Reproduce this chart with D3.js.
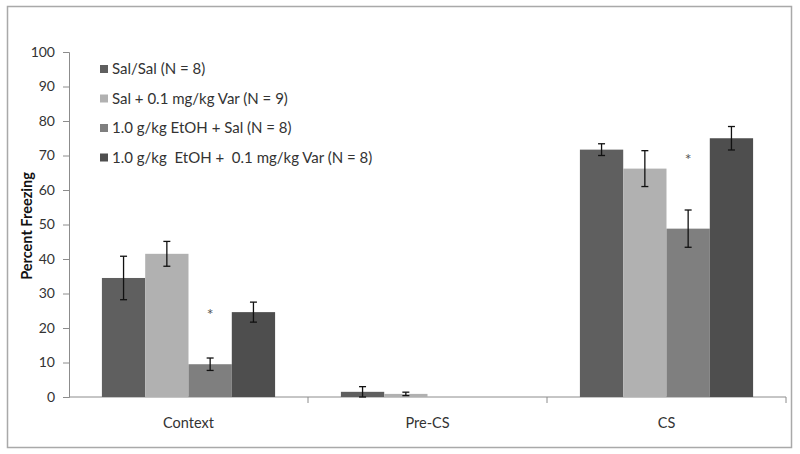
<!DOCTYPE html>
<meta charset="utf-8">
<style>
body { margin: 0; background: #fff; }
text { font-family: Lato, "Open Sans", sans-serif; fill: #333; }
</style>
<body>
<script src="https://d3js.org/d3.v7.min.js"></script>
<script>
var width = 800,
    height = 454;

// data
var categories = ["Context", "Pre-CS", "CS"];
var groups = ["Sal/Sal (N = 8)",
              "Sal + 0.1 mg/kg Var (N = 9)",
              "1.0 g/kg EtOH + Sal (N = 8)",
              "1.0 g/kg  EtOH +  0.1 mg/kg Var (N = 8)"];
var colors = ["#5f5f5f", "#b1b1b1", "#7f7f7f", "#4e4e4e"];
var means = [
  [34.5, 41.5, 9.5, 24.6],
  [1.5, 0.9, 0, 0],
  [71.7, 66.2, 48.8, 75.0]
];
var errs = [
  [6.3, 3.6, 1.8, 2.9],
  [1.5, 0.5, 0, 0],
  [1.7, 5.2, 5.4, 3.4]
];
var stars = [[0, 2, 25], [2, 2, 70]]; // category, group, y value
var yTicks = [0, 10, 20, 30, 40, 50, 60, 70, 80, 90, 100];

var svg = d3.select("body").append("svg")
    .attr("width", width)
    .attr("height", height);

// frame
svg.append("rect")
    .attr("x", 7.5).attr("y", 6.5)
    .attr("width", 784).attr("height", 441)
    .attr("fill", "none")
    .attr("stroke", "#a9a9a9")
    .attr("stroke-width", 1.5);

var x = d3.scaleBand()
    .domain(categories)
    .range([69, 786]);

var xs = d3.scaleBand()
    .domain(d3.range(groups.length))
    .range([0, x.bandwidth()])
    .paddingOuter(0.76)
    .paddingInner(0);

var y = d3.scaleLinear()
    .domain([0, 100])
    .range([397, 52]);

// y axis
var yAxis = svg.append("g")
    .attr("transform", "translate(69,0)")
    .call(d3.axisLeft(y).tickValues(yTicks).tickSize(6).tickPadding(8));
yAxis.selectAll("path, line").attr("stroke", "#8c8c8c");
yAxis.selectAll("text").style("font-size", "14px").attr("fill", "#333")
    .attr("font-family", "Lato, sans-serif");

// x axis
var xAxis = svg.append("g")
    .attr("transform", "translate(0,397)");
xAxis.append("line")
    .attr("x1", 69).attr("x2", 786)
    .attr("stroke", "#8c8c8c");
xAxis.selectAll("line.tick")
    .data(categories)
    .enter().append("line")
    .attr("class", "tick")
    .attr("x1", function(d) { return x(d) + x.bandwidth(); })
    .attr("x2", function(d) { return x(d) + x.bandwidth(); })
    .attr("y1", 0).attr("y2", 6)
    .attr("stroke", "#8c8c8c");
xAxis.selectAll("text")
    .data(categories)
    .enter().append("text")
    .attr("x", function(d) { return x(d) + x.bandwidth() / 2; })
    .attr("y", 31)
    .attr("text-anchor", "middle")
    .style("font-size", "14.5px")
    .text(function(d) { return d; });

// y label
svg.append("text")
    .attr("transform", "translate(32,226) rotate(-90)")
    .attr("text-anchor", "middle")
    .style("font-size", "14.5px")
    .style("font-weight", "bold")
    .style("fill", "#111")
    .text("Percent Freezing");

// bars
var rows = [];
categories.forEach(function(c, i) {
  groups.forEach(function(g, j) {
    rows.push({cat: c, g: j, v: means[i][j], e: errs[i][j]});
  });
});

var plot = svg.append("g");

plot.selectAll("rect.bar")
    .data(rows)
    .enter().append("rect")
    .attr("class", "bar")
    .attr("x", function(d) { return x(d.cat) + xs(d.g); })
    .attr("width", xs.bandwidth())
    .attr("y", function(d) { return y(d.v); })
    .attr("height", function(d) { return y(0) - y(d.v); })
    .attr("fill", function(d) { return colors[d.g]; });

// error bars
var eb = plot.selectAll("g.err")
    .data(rows.filter(function(d) { return d.e > 0; }))
    .enter().append("g")
    .attr("class", "err")
    .attr("stroke", "#111")
    .attr("stroke-width", 1.3);
eb.append("line")
    .attr("x1", function(d) { return x(d.cat) + xs(d.g) + xs.bandwidth() / 2; })
    .attr("x2", function(d) { return x(d.cat) + xs(d.g) + xs.bandwidth() / 2; })
    .attr("y1", function(d) { return y(d.v + d.e); })
    .attr("y2", function(d) { return y(Math.max(0, d.v - d.e)); });
[1, -1].forEach(function(s) {
  eb.append("line")
      .attr("x1", function(d) { return x(d.cat) + xs(d.g) + xs.bandwidth() / 2 - 3.5; })
      .attr("x2", function(d) { return x(d.cat) + xs(d.g) + xs.bandwidth() / 2 + 3.5; })
      .attr("y1", function(d) { return y(Math.max(0, d.v + s * d.e)); })
      .attr("y2", function(d) { return y(Math.max(0, d.v + s * d.e)); });
});

// asterisks
plot.selectAll("text.star")
    .data(stars)
    .enter().append("text")
    .attr("class", "star")
    .attr("x", function(d) { return x(categories[d[0]]) + xs(d[1]) + xs.bandwidth() / 2; })
    .attr("y", function(d) { return y(d[2]) + 9; })
    .attr("text-anchor", "middle")
    .style("font-size", "16px")
    .style("fill", "#555")
    .text("*");

// legend
var legend = svg.append("g")
    .selectAll("g")
    .data(groups)
    .enter().append("g")
    .attr("transform", function(d, i) { return "translate(100," + (69 + i * 29.5) + ")"; });
legend.append("rect")
    .attr("x", 0).attr("y", -4)
    .attr("width", 8).attr("height", 8)
    .attr("fill", function(d, i) { return colors[i]; });
legend.append("text")
    .attr("x", 12)
    .attr("y", 5)
    .style("font-size", "15px")
    .style("white-space", "pre")
    .attr("xml:space", "preserve")
    .text(function(d) { return d; });
</script>
</body>
